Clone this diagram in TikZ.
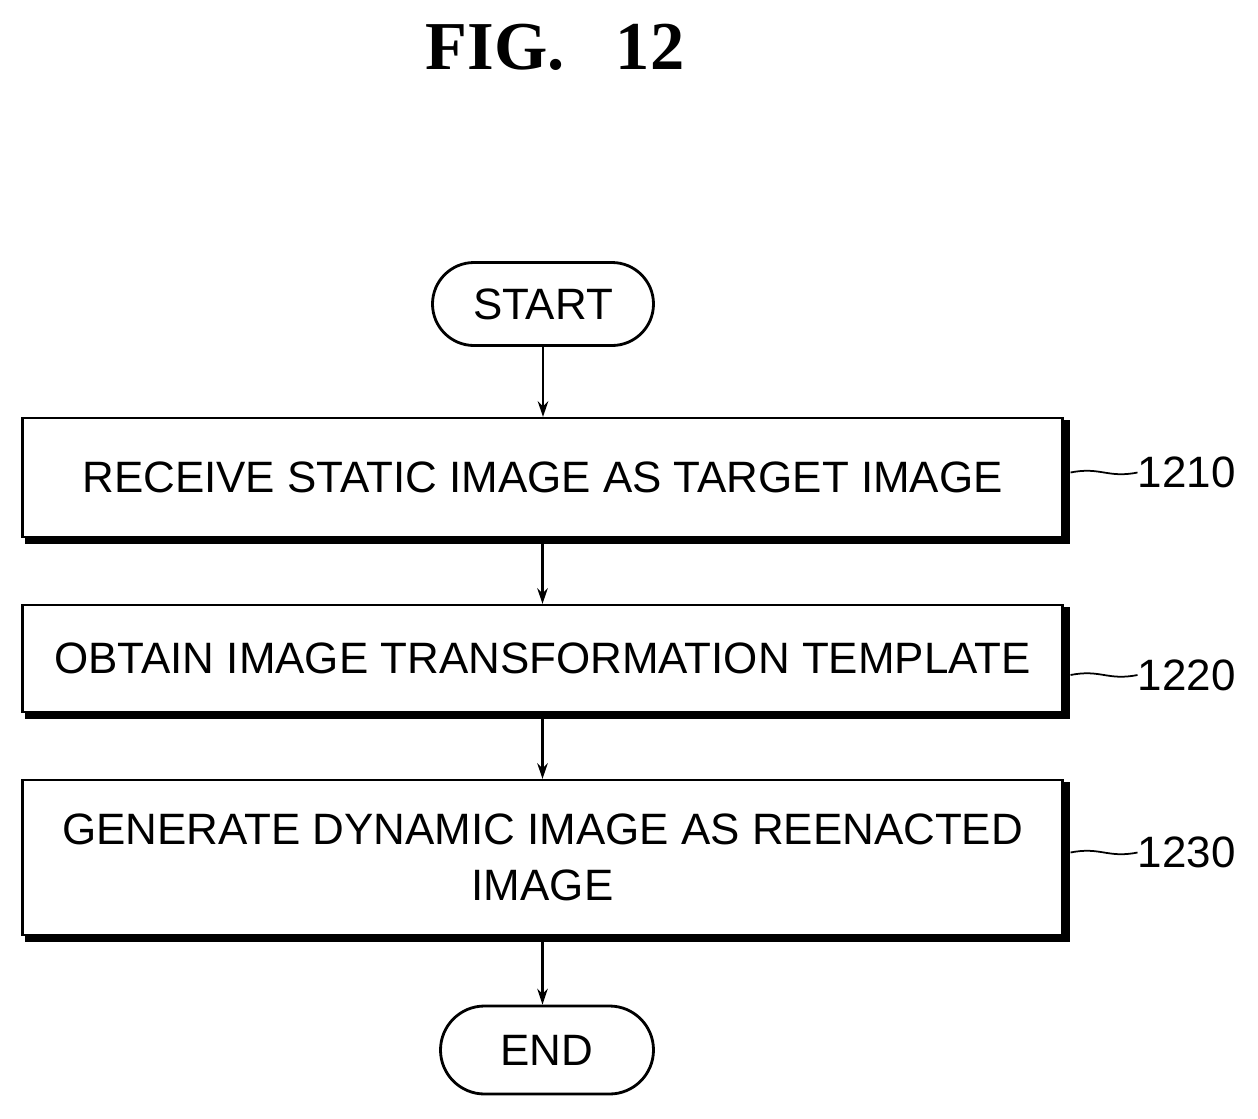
\documentclass[tikz,border=0pt]{standalone}
\usepackage{fontspec}
\setmainfont{Liberation Sans}
\newfontfamily\titlefont{Liberation Serif}
\usetikzlibrary{arrows.meta,positioning}

\tikzset{
  term/.style={draw,line width=1.6pt,rounded corners=0.83cm,minimum width=4.42cm,
               minimum height=1.66cm,font=\fontsize{25}{30}\selectfont},
  procbox/.style={draw,line width=1.2pt,minimum width=20.8cm,inner sep=0pt,
               align=center,font=\fontsize{25}{32}\selectfont},
  shadow/.style={line width=3.5pt},
  flow/.style={-{Stealth[length=9pt,width=6pt]},line width=1.2pt},
  refnum/.style={font=\fontsize{25}{30}\selectfont,anchor=west,inner sep=0pt},
}

\begin{document}
\begin{tikzpicture}
  \useasboundingbox (0,0) rectangle (25.16,-22.36);

  \node[font=\titlefont\bfseries\fontsize{39}{44}\selectfont] (fig) at (11.1,-0.95) {FIG.\ \ \ 12};

  \node[term] (start) at (10.86,-6.08) {START};
  \node[procbox,minimum height=2.38cm] (s1) at (10.85,-9.55) {RECEIVE STATIC IMAGE AS TARGET IMAGE};
  \node[procbox,minimum height=2.14cm] (s2) at (10.85,-13.17) {OBTAIN IMAGE TRANSFORMATION TEMPLATE};
  \node[procbox,minimum height=3.1cm] (s3) at (10.85,-17.15) {GENERATE DYNAMIC IMAGE AS REENACTED\\IMAGE};
  \node[term,minimum width=4.26cm,minimum height=1.76cm,rounded corners=0.88cm] (end) at (10.94,-21.0) {END};

  % shadows on right and bottom
  \foreach \b in {s1,s2,s3}{
    \draw[shadow] ([xshift=1.75pt,yshift=-2pt]\b.north east) -- ([xshift=1.75pt,yshift=-1.75pt]\b.south east)
                  -- ([xshift=2pt,yshift=-1.75pt]\b.south west);
  }

  \draw[flow] (start) -- (start |- s1.north);
  \draw[flow] ([yshift=-3pt]s1.south) -- (s2);
  \draw[flow] ([yshift=-3pt]s2.south) -- (s3);
  \draw[flow] ([yshift=-3pt]s3.south) -- (s3.south |- end.north);

  % reference numerals
  \node[refnum] (n1) at (22.75,-9.45) {1210};
  \node[refnum] (n2) at (22.75,-13.5) {1220};
  \node[refnum] (n3) at (22.75,-17.05) {1230};
  \foreach \b/\n in {s1/n1,s2/n2,s3/n3}{
    \draw[line width=1pt] ([xshift=4pt]\b.east |- \n.west) .. controls ++(0.6,0.12) and ++(-0.6,-0.12) .. (\n.west);
  }
\end{tikzpicture}
\end{document}
